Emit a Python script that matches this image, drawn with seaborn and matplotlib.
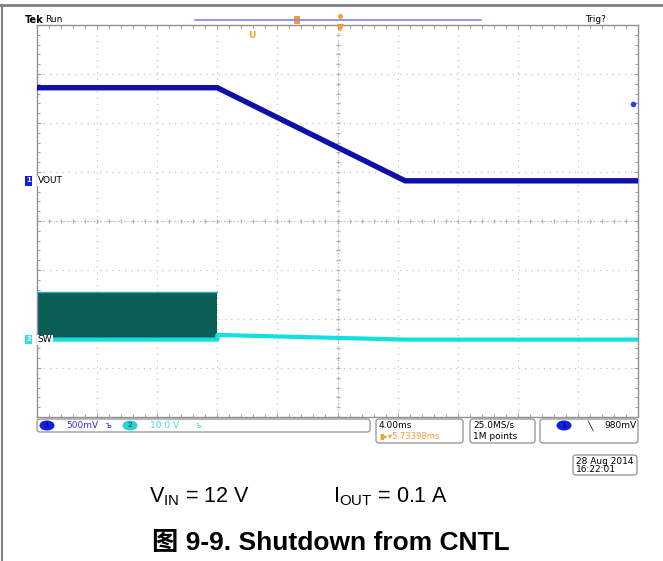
import numpy as np
import pandas as pd
import seaborn as sns
import matplotlib
matplotlib.use("Agg")
import matplotlib.pyplot as plt
from matplotlib.patches import FancyBboxPatch, Ellipse, Rectangle
from matplotlib.lines import Line2D
from matplotlib.ticker import MultipleLocator

# ---------------- data ----------------
time_ms = [-20.0, -8.0, 4.5, 20.0]          # 4 ms/div, 10 div
vout_V = [0.95, 0.95, 0.0, 0.0]             # CH1 500 mV/div
sw_time_ms = [-20.0, -8.0, -8.0, 4.5, 20.0]
sw_V = [0.0, 0.0, 0.95, 0.0, 0.0]           # CH2 10 V/div (low level)
sw_on_start_ms = -20.0
sw_on_end_ms = -8.0
sw_high_V = 9.7

ch1_scale = 0.5
ch2_scale = 10.0
ch1_offset_div = 0.82
ch2_offset_div = -2.42
trig_level_mV = 980
trig_marker_V = 0.78

caption_vin = r"$\mathregular{V_{IN}}$ = 12 V"
caption_iout = r"$\mathregular{I_{OUT}}$ = 0.1 A"
title = "图 9-9. Shutdown from CNTL"

# ---------------- figure ----------------
sns.set_theme(style="white")
plt.rcParams["font.family"] = ["Liberation Sans", "Noto Sans CJK SC", "DejaVu Sans"]
plt.rcParams["mathtext.fontset"] = "custom"
plt.rcParams["mathtext.rm"] = "Liberation Sans"
plt.rcParams["text.color"] = "black"

W, H = 663, 561
fig = plt.figure(figsize=(W / 100, H / 100), dpi=100)
fig.patch.set_facecolor("white")


def fx(px):
    return px / W


def fy(py):
    return 1 - py / H


L, T, R, B = 37, 25, 638, 417
ax = fig.add_axes([fx(L), fy(B), fx(R - L), (B - T) / H])
ax.set_xlim(-20, 20)
ax.set_ylim(-4, 4)

# graticule
for xv in np.arange(-16, 20, 4):
    ax.axvline(xv, color="#c4c4c4", lw=0.9, ls=(0, (1, 4)), zorder=0)
for yv in np.arange(-3, 4, 1):
    ax.axhline(yv, color="#c4c4c4", lw=0.9, ls=(0, (1, 4)), zorder=0)
ax.axvline(0, color="#b8b8b8", lw=0.8, ls=(0, (1, 2)), zorder=0)
ax.axhline(0, color="#b8b8b8", lw=0.8, ls=(0, (1, 2)), zorder=0)
cx = np.arange(-20, 20.01, 0.8)
cy = np.arange(-4, 4.01, 0.2)
ax.plot(cx, np.zeros_like(cx), ls="none", marker="|", ms=3, color="#b0b0b0", zorder=0)
ax.plot(np.zeros_like(cy), cy, ls="none", marker="_", ms=3, color="#b0b0b0", zorder=0)

ax.xaxis.set_major_locator(MultipleLocator(4))
ax.xaxis.set_minor_locator(MultipleLocator(0.8))
ax.yaxis.set_major_locator(MultipleLocator(1))
ax.yaxis.set_minor_locator(MultipleLocator(0.2))
ax.tick_params(which="both", direction="in", top=True, bottom=True, left=True, right=True,
               labelbottom=False, labelleft=False, color="#909090", width=0.6)
ax.tick_params(which="major", length=3)
ax.tick_params(which="minor", length=2)
for s in ax.spines.values():
    s.set_color("#909090")
    s.set_linewidth(1.0)

# SW switching band
sw_fill_x = [sw_on_start_ms, sw_on_end_ms]
ax.fill_between(sw_fill_x,
                [ch2_offset_div] * 2,
                [ch2_offset_div + sw_high_V / ch2_scale] * 2,
                color="#0b5d55", lw=0, zorder=2)
ax.plot(sw_fill_x, [ch2_offset_div + sw_high_V / ch2_scale] * 2, color="#22b0a8", lw=1.0, zorder=3)

df_sw = pd.DataFrame({"t": sw_time_ms, "v": np.array(sw_V) / ch2_scale + ch2_offset_div})
sns.lineplot(data=df_sw, x="t", y="v", ax=ax, color="#10e0e0", lw=3.0, sort=False,
             estimator=None, zorder=4)

df_v = pd.DataFrame({"t": time_ms, "v": np.array(vout_V) / ch1_scale + ch1_offset_div})
sns.lineplot(data=df_v, x="t", y="v", ax=ax, color="#1010a8", lw=3.9, sort=False,
             estimator=None, zorder=5)
ax.set_xlabel("")
ax.set_ylabel("")

# trigger level marker on right
ax.plot([19.7], [trig_marker_V / ch1_scale + ch1_offset_div], marker="o", ms=3,
        color="#2040ff", clip_on=False, zorder=6)

# channel ground markers
for yoff, col, num, lab in [(ch1_offset_div, "#1020e0", "1", "VOUT"),
                            (ch2_offset_div, "#30e0e0", "2", "SW")]:
    ax.text(-20.55, yoff, num, transform=ax.transData, ha="center", va="center",
            fontsize=6, color="white", fontweight="bold", clip_on=False,
            bbox=dict(boxstyle="square,pad=0.15", fc=col, ec="none"), zorder=7)
    ax.text(-19.95, yoff, lab, ha="left", va="center", fontsize=6.5, color="black",
            family="DejaVu Sans", clip_on=False, zorder=7,
            bbox=dict(boxstyle="square,pad=0.05", fc="white", ec="none"))

# ---------------- figure-level decorations ----------------
fig.add_artist(Line2D([0, 1], [fy(4.5), fy(4.5)], color="#808080", lw=2))
fig.add_artist(Line2D([fx(1.5), fx(1.5)], [fy(4.5), 0], color="#808080", lw=1.5))

fig.text(fx(25), fy(20), "Tek", fontsize=7, fontweight="bold", va="center", family="DejaVu Sans")
fig.text(fx(45), fy(20), "Run", fontsize=6.5, va="center", family="DejaVu Sans")
fig.text(fx(585), fy(20), "Trig?", fontsize=6.5, va="center", family="DejaVu Sans")
fig.add_artist(Line2D([fx(195), fx(481)], [fy(20), fy(20)], color="#8c8cf0", lw=1.3))
fig.add_artist(Rectangle((fx(294), fy(24)), fx(6), 8 / H, fc="#f0a030", ec="none"))
fig.add_artist(Line2D([fx(340)], [fy(16)], marker="o", ms=2.5, color="#f0a030", ls="none"))
fig.add_artist(Line2D([fx(340)], [fy(27)], marker="v", ms=4, color="#f0a030", ls="none"))
fig.text(fx(252), fy(36), "U", fontsize=6.5, fontweight="bold", color="#f0a030",
         ha="center", va="center", family="DejaVu Sans")


def box(x0, y0, x1, y1):
    fig.add_artist(FancyBboxPatch((fx(x0), fy(y1)), fx(x1 - x0), (y1 - y0) / H,
                                  boxstyle="round,pad=0,rounding_size=0.005",
                                  fc="white", ec="#909090", lw=0.9))


box(37, 419, 370, 432)
box(376, 419, 463, 443)
box(470, 419, 535, 443)
box(540, 419, 638, 443)
box(573, 455, 637, 475)

fig.add_artist(Ellipse((fx(47), fy(425.5)), fx(15), 10 / H, fc="#1020e0", ec="none"))
fig.text(fx(47), fy(425.5), "1", fontsize=6, color="#000060", ha="center", va="center")
fig.text(fx(66), fy(425.5), "500mV", fontsize=6.5, color="#3030e0", va="center", family="DejaVu Sans")
fig.text(fx(106), fy(425.5), "ъ", fontsize=6, color="#3030e0", va="center", family="DejaVu Sans")
fig.add_artist(Ellipse((fx(130), fy(425.5)), fx(15), 10 / H, fc="#30d0d0", ec="none"))
fig.text(fx(130), fy(425.5), "2", fontsize=6, color="#004040", ha="center", va="center")
fig.text(fx(150), fy(425.5), "10.0 V", fontsize=6.5, color="#40e0e0", va="center", family="DejaVu Sans")
fig.text(fx(196), fy(425.5), "ъ", fontsize=6, color="#40e0e0", va="center", family="DejaVu Sans")

fig.text(fx(379), fy(425), "4.00ms", fontsize=6.5, va="center", family="DejaVu Sans")
fig.text(fx(379), fy(436.5), "\u25AE\u25B8\u25BE5.73398ms", fontsize=6, color="#f0a030",
         va="center", family="DejaVu Sans")
fig.text(fx(473), fy(425), "25.0MS/s", fontsize=6.5, va="center", family="DejaVu Sans")
fig.text(fx(473), fy(436.5), "1M points", fontsize=6.5, va="center", family="DejaVu Sans")
fig.add_artist(Ellipse((fx(564), fy(425.5)), fx(15), 10 / H, fc="#1020e0", ec="none"))
fig.text(fx(564), fy(425.5), "1", fontsize=6, color="#000060", ha="center", va="center")
fig.text(fx(590), fy(425.5), "\u2572", fontsize=6.5, va="center", ha="center", family="DejaVu Sans")
fig.text(fx(604), fy(425.5), f"{trig_level_mV}mV", fontsize=6.5, va="center", family="DejaVu Sans")
fig.text(fx(576), fy(461), "28 Aug 2014", fontsize=6.5, va="center", family="DejaVu Sans")
fig.text(fx(576), fy(469.5), "16:22:01", fontsize=6.5, va="center", family="DejaVu Sans")

fig.text(fx(149), fy(497), caption_vin, fontsize=15.5, va="center", ha="left", color="black")
fig.text(fx(333), fy(497), caption_iout, fontsize=15.5, va="center", ha="left", color="black")
fig.text(fx(331), fy(543), title, fontsize=19, fontweight="bold", va="center", ha="center",
         color="black")

fig.savefig("out.png", dpi=100, facecolor="white")
